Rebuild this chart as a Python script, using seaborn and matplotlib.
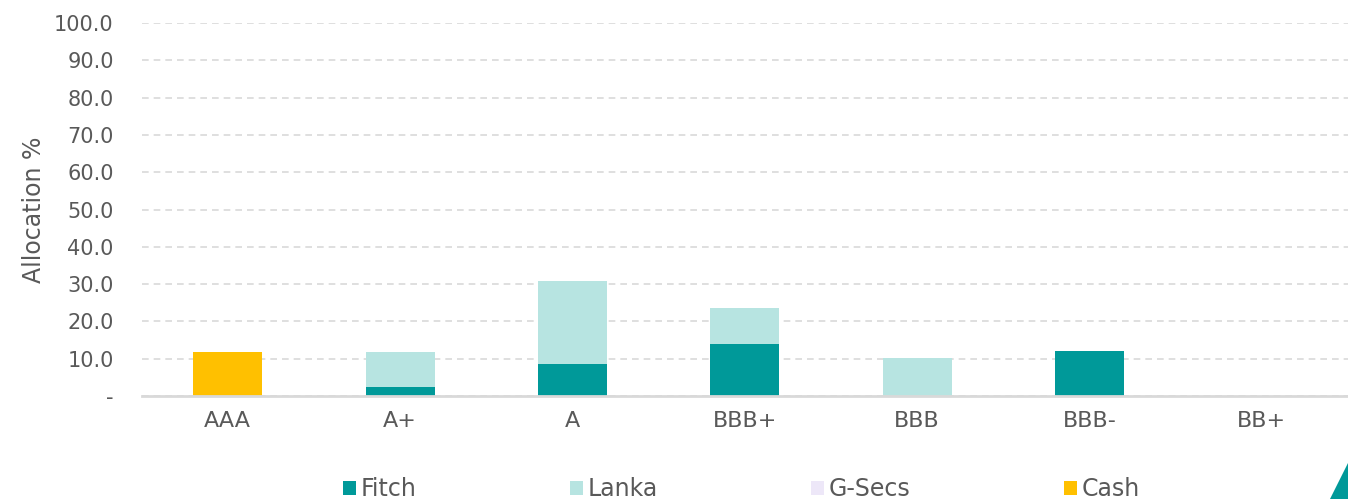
import numpy as np
import pandas as pd
import matplotlib
matplotlib.use("Agg")
import matplotlib.pyplot as plt
import matplotlib.patches as mpatches
from matplotlib.ticker import FuncFormatter, MultipleLocator
import seaborn as sns

ratings = ["AAA", "A+", "A", "BBB+", "BBB", "BBB-", "BB+"]
fitch = [0, 2.4, 8.6, 13.9, 0, 12.1, 0]
lanka = [0, 9.4, 22.2, 9.6, 10.3, 0, 0]
gsecs = [0, 0, 0, 0, 0, 0, 0]
cash = [11.8, 0, 0, 0, 0, 0, 0]

series_names = ["Fitch", "Lanka", "G-Secs", "Cash"]
colors = ["#009999", "#B7E4E1", "#EDE7F8", "#FFC000"]

sns.set_theme(style="white")
plt.rcParams["font.family"] = ["DejaVu Sans"]

TXT = "#595959"
GRID = "#D9D9D9"

fig = plt.figure(figsize=(13.48, 4.99), dpi=100)
ax = fig.add_axes([0.105, 0.2064, 0.895, 0.7475])

df = pd.DataFrame({"rating": ratings, "Fitch": fitch, "Lanka": lanka,
                   "G-Secs": gsecs, "Cash": cash})

bottom = np.zeros(len(ratings))
for name, col in zip(series_names, colors):
    sns.barplot(data=df, x="rating", y=name, color=col, bottom=bottom,
                width=0.4, ax=ax, linewidth=0, saturation=1, zorder=3)
    bottom = bottom + df[name].to_numpy()

ax.set_ylim(0, 100)
ax.set_xlim(-0.5, len(ratings) - 0.5)
ax.yaxis.set_major_locator(MultipleLocator(10))
ax.yaxis.set_major_formatter(FuncFormatter(lambda v, p: "-" if v == 0 else f"{v:.1f}"))
ax.grid(axis="y", color=GRID, linestyle=(0, (4, 3)), linewidth=1.2, zorder=0)
ax.grid(axis="x", visible=False)

for s in ["top", "right", "left"]:
    ax.spines[s].set_visible(False)
ax.spines["bottom"].set_color(GRID)
ax.spines["bottom"].set_linewidth(2)
ax.spines["bottom"].set_zorder(4)

ax.tick_params(axis="both", length=0, colors=TXT)
ax.tick_params(axis="y", labelsize=15, pad=20)
ax.tick_params(axis="x", labelsize=16, pad=11)
ax.set_xlabel("")
ax.set_ylabel("Allocation %", fontsize=17, color=TXT, labelpad=6)

handles = [mpatches.Patch(facecolor=c, edgecolor="none", label=n)
           for n, c in zip(series_names, colors)]
fig.legend(handles=handles, loc="center", bbox_to_anchor=(0.55, 0.02),
           ncol=4, frameon=False, fontsize=17, labelcolor=TXT,
           handlelength=0.55, handleheight=0.55, handletextpad=0.2,
           columnspacing=6.5)

# corner accent
tri = mpatches.Polygon([[1330 / 1348, 0], [1, 36 / 499], [1, 0]],
                       closed=True, transform=fig.transFigure,
                       facecolor="#009999", edgecolor="none")
fig.patches.append(tri)

fig.savefig("out.png", dpi=100)
